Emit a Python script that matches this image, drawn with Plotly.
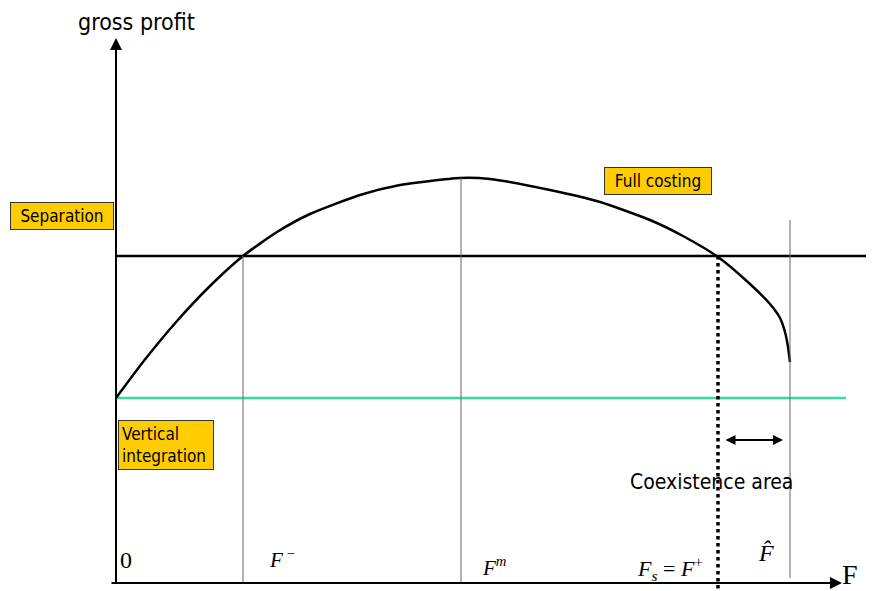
import plotly.graph_objects as go

# positions (x in pixels along F, y in pixels from top)
curve_F = [116, 143, 177, 210, 243, 277, 310, 360, 400, 460, 490, 550, 600, 650, 683, 718,
           750, 770, 780, 785, 788, 790]
curve_profit = [398, 362, 321, 286, 256, 232, 214, 195, 185, 178, 179, 190, 202, 220, 236, 257,
                284, 304, 318, 332, 347, 362]

separation_level = 256
vi_level = 398
F_minus = 243
F_m = 461
F_s = 718
F_hat = 790
axis_x0 = 116
axis_y0 = 583

font_sans = "DejaVu Sans Condensed, DejaVu Sans"
font_serif = "Liberation Serif, Times New Roman"
yellow = "#FFCC00"

fig = go.Figure()

# separation profit level
fig.add_trace(go.Scatter(x=[axis_x0, 882], y=[separation_level, separation_level], mode="lines",
                         line=dict(color="black", width=2.5), hoverinfo="skip"))
# vertical integration level
fig.add_trace(go.Scatter(x=[axis_x0, 846], y=[vi_level, vi_level], mode="lines",
                         line=dict(color="#33DDAA", width=2.5), hoverinfo="skip"))
# full costing curve
fig.add_trace(go.Scatter(x=curve_F, y=curve_profit, mode="lines", line_shape="spline",
                         line=dict(color="black", width=2.5, smoothing=0.6), hoverinfo="skip"))

# thin guides
for xv, top, bot in [(F_minus, separation_level, axis_y0), (F_m, 178, axis_y0), (F_hat, 220, 578)]:
    fig.add_trace(go.Scatter(x=[xv, xv], y=[top, bot], mode="lines",
                             line=dict(color="#666666", width=1), hoverinfo="skip"))
# dotted line at F_s
fig.add_trace(go.Scatter(x=[F_s, F_s], y=[separation_level, 600], mode="lines",
                         line=dict(color="black", width=3.5, dash="dot"), hoverinfo="skip"))

# axes with arrows
fig.add_annotation(x=axis_x0, y=38, ax=axis_x0, ay=axis_y0 + 2, xref="x", yref="y", axref="x", ayref="y",
                   showarrow=True, arrowhead=2, arrowsize=1.2, arrowwidth=2, arrowcolor="black", text="")
fig.add_annotation(x=842, y=axis_y0, ax=110, ay=axis_y0, xref="x", yref="y", axref="x", ayref="y",
                   showarrow=True, arrowhead=2, arrowsize=1.2, arrowwidth=2, arrowcolor="black", text="")
# coexistence double arrow
fig.add_annotation(x=783, y=440, ax=724, ay=440, xref="x", yref="y", axref="x", ayref="y",
                   showarrow=True, arrowhead=2, startarrowhead=2, arrowside="end+start",
                   arrowsize=1, arrowwidth=2, arrowcolor="black", text="")

# texts
fig.add_annotation(x=136, y=22, text="gross profit", showarrow=False,
                   font=dict(family=font_sans, size=23, color="black"))
fig.add_annotation(x=711, y=482, text="Coexistence area", showarrow=False,
                   font=dict(family=font_sans, size=21, color="black"))

boxes = [("Separation", 62, 216, 100, 24, 1, "center"),
         ("Vertical<br>integration", 166, 445, 88, 42, 3, "left"),
         ("Full costing", 658, 181, 104, 24, 1, "center")]
for txt, cx, cy, w, h, pad, al in boxes:
    fig.add_annotation(x=cx, y=cy, text=txt, showarrow=False, width=w, height=h, align=al,
                       bgcolor=yellow, bordercolor="#333333", borderwidth=1, borderpad=pad,
                       font=dict(family=font_sans, size=17, color="black"))

# F labels
labels = [("0", 126, 560, 24),
          ("<i>F</i><sup> \u2212</sup>", 282, 558, 21),
          ("<i>F<sup>m</sup></i>", 494, 566, 21),
          ("<i>F<sub>s</sub></i> = <i>F</i><sup>+</sup>", 670, 568, 22),
          ("<i>F\u0302</i>", 766, 553, 24),
          ("F", 850, 574, 28)]
for txt, lx, ly, sz in labels:
    fig.add_annotation(x=lx, y=ly, text=txt, showarrow=False,
                       font=dict(family=font_serif, size=sz, color="black"))

# the page puts the figure 8px in from the top-left corner, so the ranges are shifted to match
fig.update_layout(width=874, height=591, margin=dict(l=0, r=0, t=0, b=0),
                  plot_bgcolor="white", paper_bgcolor="white", showlegend=False,
                  xaxis=dict(range=[8, 882], visible=False, fixedrange=True),
                  yaxis=dict(range=[599, 8], visible=False, fixedrange=True))

fig.write_html("out.html")
